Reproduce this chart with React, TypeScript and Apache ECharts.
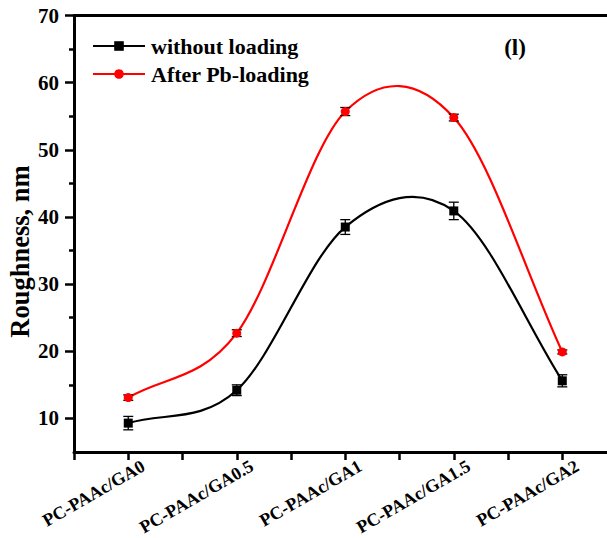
import React, { useEffect, useRef } from "react";
import * as echarts from "echarts";

const categories = ["PC-PAAc/GA0", "PC-PAAc/GA0.5", "PC-PAAc/GA1", "PC-PAAc/GA1.5", "PC-PAAc/GA2"];
const withoutLoading = [9.3, 14.2, 38.5, 40.9, 15.6];
const withoutLoadingErr = [1.0, 0.8, 1.1, 1.3, 0.9];
const afterPb = [13.1, 22.7, 55.7, 54.8, 19.9];
const afterPbErr = [0.4, 0.5, 0.6, 0.5, 0.3];
const yMajorTicks = [10, 20, 30, 40, 50, 60, 70];
const yMinorTicks = [15, 25, 35, 45, 55, 65];
const xTicks = [-0.5, 0, 0.5, 1, 1.5, 2, 2.5, 3, 3.5, 4];

const FONT = "'Times New Roman', 'Liberation Serif', serif";
const RED = "#ff0000";
const BLACK = "#000000";
const X_MIN = -0.5;
const X_MAX = 4.412;
const Y_MIN = 5;
const Y_MAX = 70;

function tangent(vals: number[], i: number): number {
  const n = vals.length;
  if (i === 0) return vals[1] - vals[0];
  if (i === n - 1) return vals[n - 1] - vals[n - 2];
  return (vals[i + 1] - vals[i - 1]) / 2;
}

function curveSeries(name: string, vals: number[], color: string) {
  return {
    type: "custom",
    name,
    silent: true,
    data: vals.map((v, i) => [i, v]),
    renderItem: (params: any, api: any) => {
      const i = params.dataIndex;
      if (i >= vals.length - 1) return null;
      const m0 = tangent(vals, i);
      const m1 = tangent(vals, i + 1);
      const p0 = api.coord([i, vals[i]]);
      const c1 = api.coord([i + 1 / 3, vals[i] + m0 / 3]);
      const c2 = api.coord([i + 2 / 3, vals[i + 1] - m1 / 3]);
      const p3 = api.coord([i + 1, vals[i + 1]]);
      return {
        type: "bezierCurve",
        shape: {
          x1: p0[0], y1: p0[1],
          cpx1: c1[0], cpy1: c1[1],
          cpx2: c2[0], cpy2: c2[1],
          x2: p3[0], y2: p3[1],
        },
        style: { stroke: color, lineWidth: 2.2, fill: null },
      };
    },
    z: 2,
  };
}

function errorSeries(name: string, vals: number[], errs: number[], color: string) {
  return {
    type: "custom",
    name,
    silent: true,
    data: vals.map((v, i) => [i, v, errs[i]]),
    renderItem: (params: any, api: any) => {
      const x = api.value(0);
      const v = api.value(1);
      const e = api.value(2);
      const top = api.coord([x, v + e]);
      const bot = api.coord([x, v - e]);
      const hw = 5;
      const st = { stroke: color, lineWidth: 1.3 };
      return {
        type: "group",
        children: [
          { type: "line", shape: { x1: top[0], y1: top[1], x2: bot[0], y2: bot[1] }, style: st },
          { type: "line", shape: { x1: top[0] - hw, y1: top[1], x2: top[0] + hw, y2: top[1] }, style: st },
          { type: "line", shape: { x1: bot[0] - hw, y1: bot[1], x2: bot[0] + hw, y2: bot[1] }, style: st },
        ],
      };
    },
    z: 3,
  };
}

function categoryLabelSeries() {
  return {
    type: "custom",
    name: "category-labels",
    silent: true,
    clip: false,
    data: categories.map((_, i) => [i, Y_MIN]),
    renderItem: (params: any, api: any) => {
      const i = params.dataIndex;
      const pt = api.coord([api.value(0), api.value(1)]);
      return {
        type: "text",
        x: pt[0] + 15,
        y: pt[1] + 12.5,
        rotation: Math.PI / 6,
        style: {
          text: categories[i],
          fontSize: 18,
          fontWeight: "bold",
          fontFamily: FONT,
          fill: BLACK,
          align: "right",
          verticalAlign: "middle",
        },
      };
    },
    z: 5,
  };
}

export default function App() {
  const ref = useRef<HTMLDivElement>(null);
  useEffect(() => {
    if (!ref.current) return;
    const chart = echarts.init(ref.current, null, { renderer: "svg" });
    chart.setOption({
      animation: false,
      backgroundColor: "#ffffff",
      grid: {
        left: 74,
        right: 0,
        top: 15.5,
        bottom: 86,
        show: false,
      },
      legend: {
        orient: "vertical",
        left: 92,
        top: 35,
        padding: 0,
        itemGap: 6,
        itemWidth: 52,
        itemHeight: 12,
        selectedMode: false,
        textStyle: { fontSize: 22, fontWeight: "bold", fontFamily: FONT, color: BLACK, padding: [0, 0, 0, 1] },
        data: [
          { name: "without loading", lineStyle: { color: BLACK, width: 2, opacity: 1 } },
          { name: "After Pb-loading", lineStyle: { color: RED, width: 2, opacity: 1 } },
        ],
      },
      xAxis: [
        {
          type: "value",
          min: X_MIN,
          max: X_MAX,
          interval: 0.5,
          position: "bottom",
          splitLine: { show: false },
          axisLine: { show: true, onZero: false, lineStyle: { color: BLACK, width: 3 } },
          axisTick: { show: true, customValues: xTicks, length: 8, lineStyle: { color: BLACK, width: 2.5 } },
          axisLabel: { show: false },
        },
        {
          type: "value",
          min: X_MIN,
          max: X_MAX,
          interval: 0.5,
          position: "top",
          splitLine: { show: false },
          axisLine: { show: true, onZero: false, lineStyle: { color: BLACK, width: 3 } },
          axisTick: { show: false },
          axisLabel: { show: false },
        },
      ],
      yAxis: [
        {
          type: "value",
          min: Y_MIN,
          max: Y_MAX,
          interval: 5,
          position: "left",
          splitLine: { show: false },
          axisLine: { show: true, onZero: false, lineStyle: { color: BLACK, width: 3 } },
          axisTick: { show: true, customValues: yMajorTicks, length: 9, lineStyle: { color: BLACK, width: 2.5 } },
          axisLabel: {
            customValues: yMajorTicks,
            fontSize: 21,
            fontWeight: "bold",
            fontFamily: FONT,
            color: BLACK,
            margin: 15,
          },
        },
        {
          type: "value",
          min: Y_MIN,
          max: Y_MAX,
          interval: 5,
          position: "left",
          splitLine: { show: false },
          axisLine: { show: false, onZero: false },
          axisTick: { show: true, customValues: yMinorTicks, length: 5, lineStyle: { color: BLACK, width: 2.5 } },
          axisLabel: { show: false },
        },
      ],
      graphic: [
        {
          type: "text",
          x: 20,
          y: 251.5,
          rotation: Math.PI / 2,
          style: {
            text: "Roughness, nm",
            fontSize: 26.5,
            fontWeight: "bold",
            fontFamily: FONT,
            fill: BLACK,
            align: "center",
            verticalAlign: "middle",
          },
        },
        {
          type: "text",
          x: 515,
          y: 47,
          style: {
            text: "(l)",
            fontSize: 23,
            fontWeight: "bold",
            fontFamily: FONT,
            fill: BLACK,
            align: "center",
            verticalAlign: "middle",
          },
        },
      ],
      series: [
        curveSeries("curve-without", withoutLoading, BLACK),
        curveSeries("curve-after", afterPb, RED),
        errorSeries("err-without", withoutLoading, withoutLoadingErr, BLACK),
        errorSeries("err-after", afterPb, afterPbErr, BLACK),
        {
          type: "line",
          name: "without loading",
          data: withoutLoading.map((v, i) => [i, v]),
          symbol: "rect",
          symbolSize: 9,
          itemStyle: { color: BLACK },
          lineStyle: { width: 0, opacity: 0, color: BLACK },
          z: 4,
        },
        {
          type: "line",
          name: "After Pb-loading",
          data: afterPb.map((v, i) => [i, v]),
          symbol: "circle",
          symbolSize: 9,
          itemStyle: { color: RED },
          lineStyle: { width: 0, opacity: 0, color: RED },
          z: 4,
        },
        categoryLabelSeries(),
      ],
    });
    return () => chart.dispose();
  }, []);
  return (
    <div
      ref={ref}
      style={{ position: "absolute", left: 0, top: 0, width: 607, height: 538, background: "#fff" }}
    />
  );
}
